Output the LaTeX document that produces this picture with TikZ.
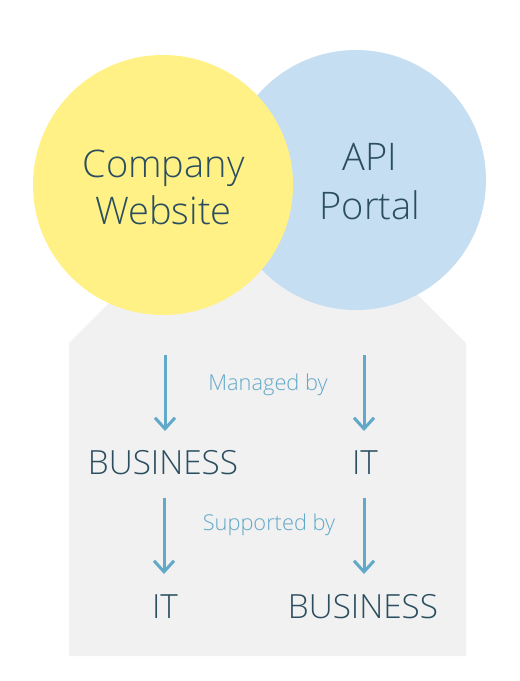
\documentclass[tikz,border=0pt]{standalone}
\usepackage{fontspec}
\IfFontExistsTF{Open Sans Light}{\setmainfont{Open Sans Light}}{\setmainfont{Open Sans}}
\usetikzlibrary{arrows.meta}
\definecolor{cyellow}{HTML}{FFF185}
\definecolor{cblue}{HTML}{C6DEF1}
\definecolor{cgray}{HTML}{F1F1F1}
\definecolor{ctext}{HTML}{2A4E5F}
\definecolor{carrow}{HTML}{62A8C8}
\tikzset{
  bigtxt/.style={text=ctext, inner sep=0pt, anchor=base, font=\fontsize{38}{46}\selectfont},
  roletxt/.style={text=ctext, inner sep=0pt, anchor=base, font=\fontsize{33.3}{40}\selectfont},
  reltxt/.style={text=carrow, inner sep=0pt, anchor=base, font=\fontsize{21.8}{26}\selectfont},
  flow/.style={draw=carrow, line width=3pt, -{Straight Barb[length=11pt,width=20pt]}}
}
\begin{document}
\begin{tikzpicture}[x=1pt,y=-1pt]
\useasboundingbox (0,0) rectangle (520,681);
% house-shaped background
\fill[cgray] (69,656) -- (69,343) -- (267.5,144.5) -- (466,343) -- (466,656) -- cycle;
% circles
\fill[cblue] (356,180) circle (130);
\fill[cyellow] (163,185) circle (130);
% circle texts
\node[bigtxt] (cw1) at (163.5,177) {Company};
\node[bigtxt] (cw2) at (163.5,224) {Website};
\node[bigtxt] (ap1) at (370,170) {API};
\node[bigtxt] (ap2) at (370,219) {Portal};
% roles
\node[roletxt] (b1) at (163,474) {BUSINESS};
\node[roletxt] (i1) at (365,474) {IT};
\node[roletxt] (i2) at (165,618) {IT};
\node[roletxt] (b2) at (363,618) {BUSINESS};
% relation labels
\node[reltxt] (man) at (268,390) {Managed by};
\node[reltxt] (sup) at (269,530) {Supported by};
% arrow end points
\coordinate (a1s) at (165,355); \coordinate (a1e) at (165,431);
\coordinate (a2s) at (364,355); \coordinate (a2e) at (364,431);
\coordinate (a3s) at (164,498); \coordinate (a3e) at (164,574);
\coordinate (a4s) at (364,498); \coordinate (a4e) at (364,574);
\draw[flow] (a1s) -- (a1e);
\draw[flow] (a2s) -- (a2e);
\draw[flow] (a3s) -- (a3e);
\draw[flow] (a4s) -- (a4e);
\end{tikzpicture}
\end{document}
